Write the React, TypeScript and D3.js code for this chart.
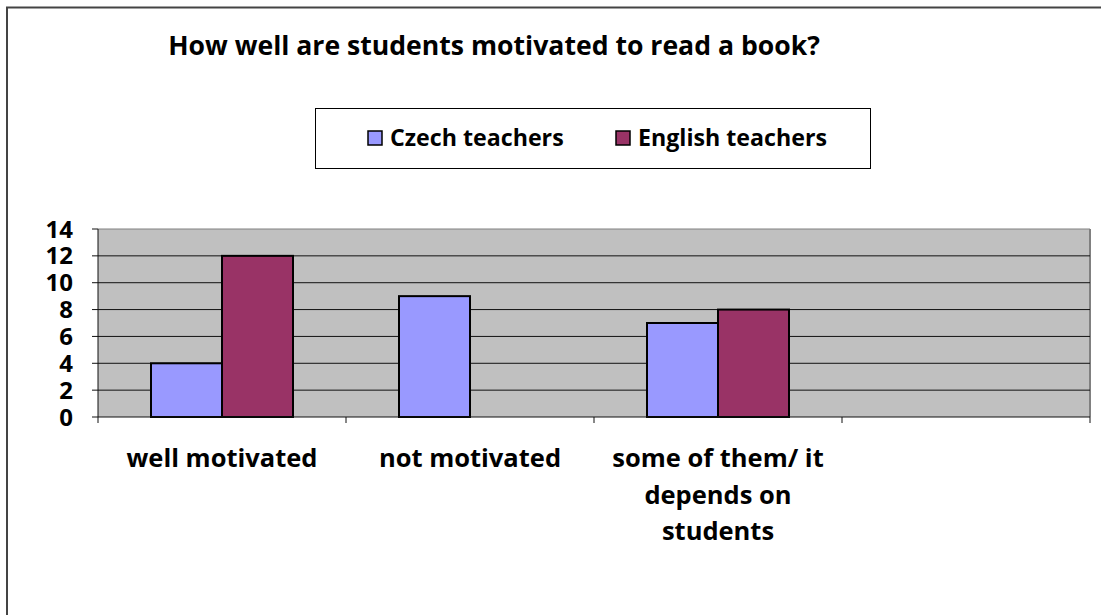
import React from "react";
import * as d3 from "d3";

const title = "How well are students motivated to read a book?";
const categories = ["well motivated", "not motivated", "some of them/ it depends on students", ""];
const categoryLines = [["well motivated"], ["not motivated"], ["some of them/ it", "depends on", "students"], []];
const seriesNames = ["Czech teachers", "English teachers"];
const czech = [4, 9, 7, null];
const english = [12, null, 8, null];
const yTicks = [0, 2, 4, 6, 8, 10, 12, 14];
const colors = ["#9999FF", "#993366"];

const W = 1101;
const H = 615;
const FONT = "'Open Sans', Lato, sans-serif";

export default function App() {
  const plot = { left: 98, right: 1090, top: 229, bottom: 417 };
  const x = d3.scaleBand<string>().domain(categories.map((c, i) => String(i))).range([plot.left, plot.right]).paddingInner(0).paddingOuter(0);
  const inner = d3.scaleBand<number>().domain([0, 1]).range([0, 142]);
  const y = d3.scaleLinear().domain([0, 14]).range([plot.bottom, plot.top]);
  const series = [czech, english];
  const bw = x.bandwidth();

  return (
    <svg width={W} height={H} style={{ position: "absolute", left: 0, top: 0, display: "block" }}>
      <rect x={0} y={0} width={W} height={H} fill="#fff" />
      <rect x={7} y={7.5} width={W + 20} height={H + 20} fill="none" stroke="#444" strokeWidth={2} />
      <text x={494} y={55} textAnchor="middle" fontFamily={FONT} fontWeight="bold" fontSize={26.6} fill="#000">{title}</text>

      {/* legend */}
      <rect x={315.5} y={108.5} width={555} height={60} fill="#fff" stroke="#000" strokeWidth={1} />
      {seriesNames.map((s, i) => {
        const lx = i === 0 ? 368 : 616;
        return (
          <g key={s}>
            <rect x={lx} y={131} width={14} height={14} fill={colors[i]} stroke="#000" strokeWidth={1.5} />
            <text x={lx + 22} y={146} fontFamily={FONT} fontWeight="bold" fontSize={23.2} fill="#000">{s}</text>
          </g>
        );
      })}

      {/* plot area */}
      <rect x={plot.left} y={plot.top} width={plot.right - plot.left} height={plot.bottom - plot.top} fill="#C0C0C0" />
      <line x1={plot.right} x2={plot.right} y1={plot.top} y2={plot.bottom} stroke="#808080" strokeWidth={2} />
      {yTicks.map((t) => (
        <g key={t}>
          {t > 0 && t < 14 && (
            <line x1={plot.left} x2={plot.right} y1={y(t)} y2={y(t)} stroke="#111" strokeWidth={1} />
          )}
          {t === 14 && <line x1={plot.left} x2={plot.right} y1={y(t)} y2={y(t)} stroke="#808080" strokeWidth={1} />}
          <line x1={plot.left - 6} x2={plot.left} y1={y(t)} y2={y(t)} stroke="#111" strokeWidth={1} />
          <text x={73} y={y(t)} dy="0.36em" textAnchor="end" fontFamily={FONT} fontWeight="bold" fontSize={24} fill="#000">{t}</text>
        </g>
      ))}

      {/* bars */}
      {series.map((vals, si) =>
        vals.map((v, ci) => {
          if (v === null || v === 0) return null;
          const bx = (x(String(ci)) as number) + (bw - 142) / 2 + (inner(si) as number);
          return (
            <rect key={`${si}-${ci}`} x={bx} y={y(v)} width={inner.bandwidth()} height={y(0) - y(v)} fill={colors[si]} stroke="#000" strokeWidth={2} />
          );
        })
      )}

      {/* axes */}
      <line x1={plot.left} x2={plot.left} y1={plot.top} y2={plot.bottom + 6} stroke="#111" strokeWidth={1} />
      <line x1={plot.left} x2={plot.right} y1={plot.bottom} y2={plot.bottom} stroke="#111" strokeWidth={1} />
      {categories.map((c, i) => (
        <line key={"t" + i} x1={(x(String(i)) as number) + bw} x2={(x(String(i)) as number) + bw} y1={plot.bottom} y2={plot.bottom + 6} stroke="#111" strokeWidth={1} />
      ))}
      {categoryLines.map((lines, i) => (
        <text key={"c" + i} textAnchor="middle" fontFamily={FONT} fontWeight="bold" fontSize={25.5} fill="#000">
          {lines.map((l, j) => (
            <tspan key={j} x={(x(String(i)) as number) + bw / 2} y={467 + j * 36.5}>{l}</tspan>
          ))}
        </text>
      ))}
    </svg>
  );
}
